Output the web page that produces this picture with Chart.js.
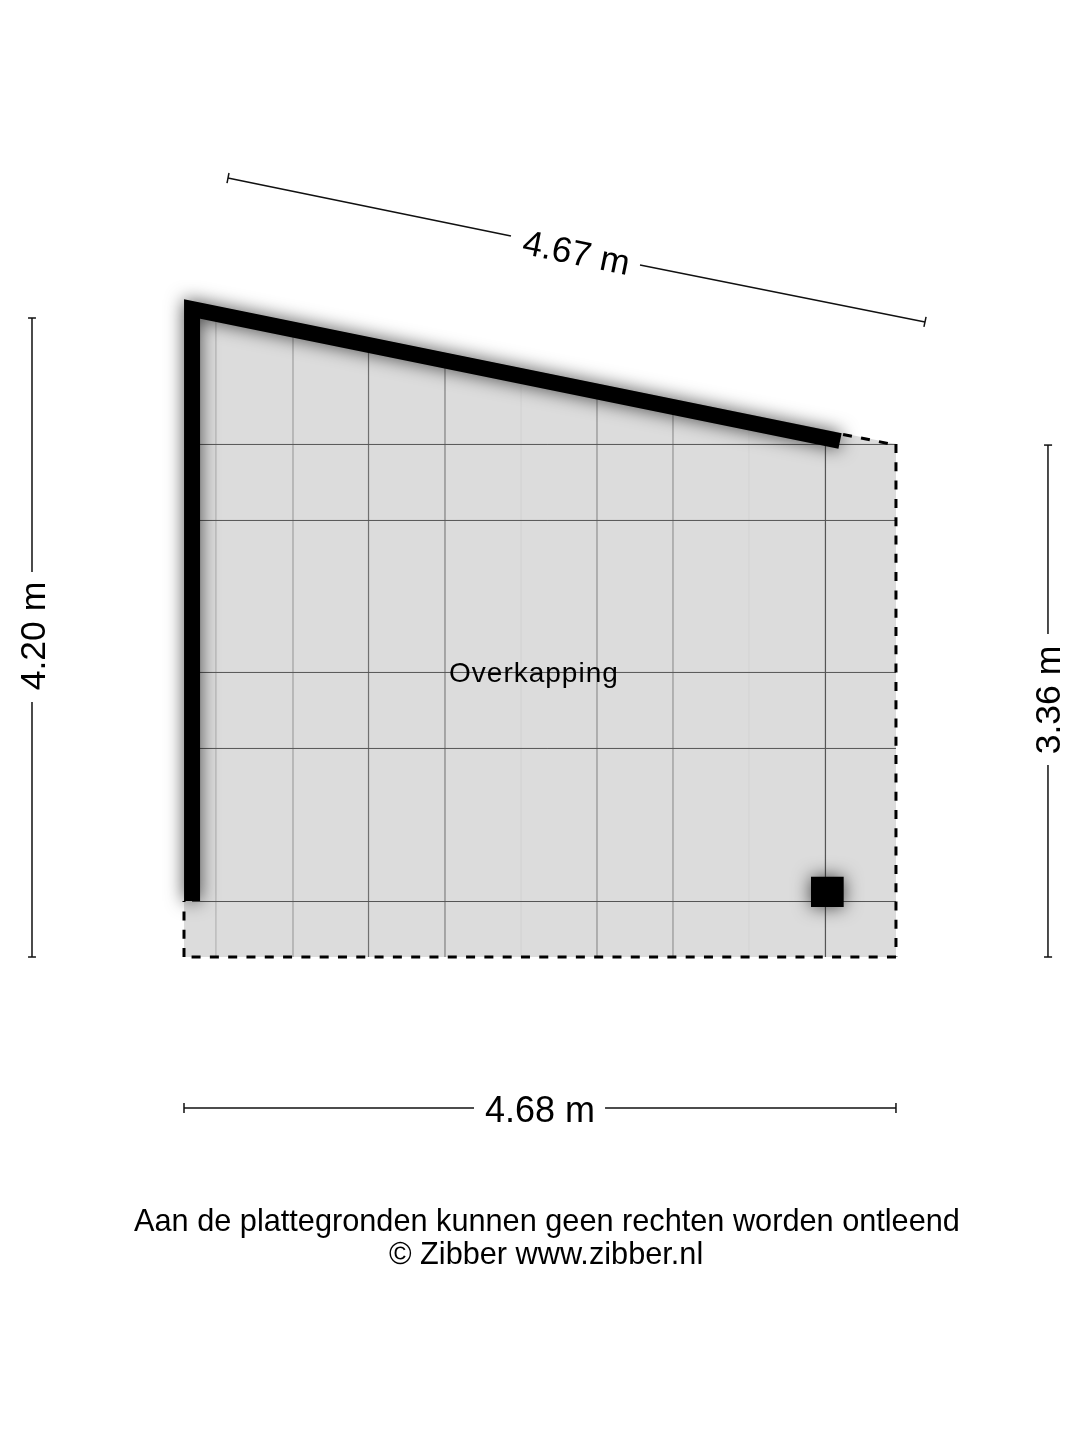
<!DOCTYPE html>
<html>
<head>
<meta charset="utf-8">
<title>Overkapping</title>
<style>
    html, body { margin: 0; padding: 0; background: #fff; }
    canvas { display: block; }
</style>
<script src="https://cdn.jsdelivr.net/npm/chart.js@4"></script>
</head>
<body>
<canvas id="plan" width="1080" height="1440"></canvas>
<script>
// All values in metres, origin at the lower left corner of the floor
const floorOutline = [[0, 4.322], [4.684, 3.375], [4.684, 0], [0, 0], [0, 4.322]];
const wallLine = [[4.316, 3.395], [0.053, 4.263], [0.053, 0.368]];
const pillarLine = [[4.125, 0.428], [4.34, 0.428]];

const dashedRight = [[4.684, 3.375], [4.684, 0]];
const dashedBottom = [[4.684, 0], [0, 0]];
const dashedLeft = [[0, 0], [0, 0.368]];
const dashedSlope = [[4.336, 3.438], [4.684, 3.368]];

// Tile joints
const jointX = [0.21, 0.717, 1.214, 1.717, 2.217, 2.717, 3.217, 3.717, 4.22];
const jointXTop = [4.23, 4.125, 4.026, 3.924, 3.822, 3.72, 3.618, 3.516, 3.414];
const jointXColors = ['#b4b4b4', '#a0a0a0', '#707070', '#808080', '#d3d3d3', '#909090', '#949494', '#d4d4d4', '#555555'];
const jointY = [3.372, 2.872, 1.872, 1.372, 0.365];
const jointYStart = [0.105, 0.105, 0.105, 0.105, 0.053];
const jointYEnd = 4.684;

// Dimension lines
const dimTop = [[[0.289, 5.125], [2.151, 4.743]], [[3.0, 4.553], [4.875, 4.178]],
    [[0.296, 5.158], [0.283, 5.092]], [[4.882, 4.211], [4.868, 4.145]]];
const dimLeft = [[[-1, 4.204], [-1, 2.533]], [[-1, 1.678], [-1, 0]],
    [[-1.026, 4.204], [-0.974, 4.204]], [[-1.026, 0], [-0.974, 0]]];
const dimRight = [[[5.684, 3.368], [5.684, 2.125]], [[5.684, 1.263], [5.684, 0]],
    [[5.658, 3.368], [5.711, 3.368]], [[5.658, 0], [5.711, 0]]];
const dimBottom = [[[0, -0.993], [1.908, -0.993]], [[2.77, -0.993], [4.684, -0.993]],
    [[0, -0.961], [0, -1.026]], [[4.684, -0.961], [4.684, -1.026]]];

const labelTexts = ['4.67 m', '4.20 m', '3.36 m', '4.68 m', 'Overkapping',
    'Aan de plattegronden kunnen geen rechten worden ontleend', '© Zibber www.zibber.nl'];
const labelX = [2.579, -0.98, 5.701, 2.342, 2.302, 2.388, 2.382];
const labelY = [4.62, 2.112, 1.691, -1.02, 1.862, -1.75, -1.967];
const labelAngles = [11.5, -90, -90, 0, 0, 0, 0];
const labelSizes = [35.5, 35.5, 35.5, 36, 28, 30.7, 30.7];
const labelSpacing = [0, 0, 0, 0, 1, 0, 0];

const toPoints = (pairs) => pairs.map(p => ({ x: p[0], y: p[1] }));

function lineSet(pairs, color, width, extra) {
    return Object.assign({
        data: toPoints(pairs),
        showLine: true,
        borderColor: color,
        borderWidth: width,
        pointRadius: 0,
        tension: 0,
        fill: false
    }, extra);
}

// Added back to front: floor first, walls last
const layers = [];

layers.push(lineSet(floorOutline, 'transparent', 0, { fill: 'shape', backgroundColor: '#dcdcdc' }));

jointX.forEach((x, i) => {
    layers.push(lineSet([[x, jointXTop[i]], [x, 0]], jointXColors[i], 1.2));
});
jointY.forEach((y, i) => {
    layers.push(lineSet([[jointYStart[i], y], [jointYEnd, y]], '#555555', 1));
});

const dash = { borderDash: [9, 9.3], borderCapStyle: 'butt' };
[dashedRight, dashedBottom, dashedLeft, dashedSlope].forEach(part => {
    layers.push(lineSet(part, '#000000', 3, dash));
});

[dimTop, dimLeft, dimRight, dimBottom].forEach(dim => {
    dim.forEach(seg => layers.push(lineSet(seg, '#111111', 1.5)));
});

layers.push(lineSet(wallLine, '#000000', 16, { borderJoinStyle: 'miter', borderCapStyle: 'butt', castShadow: true }));
layers.push(lineSet(pillarLine, '#000000', 30.3, { borderCapStyle: 'butt', castShadow: true }));

// Chart.js paints the first dataset on top
const datasets = layers.reverse();

// Soft shadow behind the solid walls
const shadowPlugin = {
    id: 'wallShadow',
    beforeDatasetDraw(chart, args) {
        if (chart.data.datasets[args.index].castShadow) {
            chart.ctx.save();
            chart.ctx.shadowColor = 'rgba(0,0,0,0.7)';
            chart.ctx.shadowBlur = 18;
        }
    },
    afterDatasetDraw(chart, args) {
        if (chart.data.datasets[args.index].castShadow) chart.ctx.restore();
    }
};

const labelPlugin = {
    id: 'planLabels',
    afterDraw(chart) {
        const ctx = chart.ctx;
        labelTexts.forEach((text, i) => {
            ctx.save();
            ctx.translate(chart.scales.x.getPixelForValue(labelX[i]), chart.scales.y.getPixelForValue(labelY[i]));
            ctx.rotate(labelAngles[i] * Math.PI / 180);
            ctx.font = `${labelSizes[i]}px "Liberation Sans"`;
            ctx.letterSpacing = `${labelSpacing[i]}px`;
            ctx.fillStyle = '#000000';
            ctx.textAlign = 'center';
            ctx.textBaseline = 'middle';
            ctx.fillText(text, 0, 0);
            ctx.restore();
        });
    }
};

new Chart(document.getElementById('plan'), {
    type: 'scatter',
    data: { datasets },
    plugins: [shadowPlugin, labelPlugin],
    options: {
        responsive: false,
        animation: false,
        devicePixelRatio: 1,
        layout: { padding: 0 },
        plugins: { legend: { display: false }, tooltip: { enabled: false } },
        scales: {
            x: { type: 'linear', display: false, min: -1.2105, max: 5.8947 },
            y: { type: 'linear', display: false, min: -3.1776, max: 6.2961 }
        }
    }
});
</script>
</body>
</html>
